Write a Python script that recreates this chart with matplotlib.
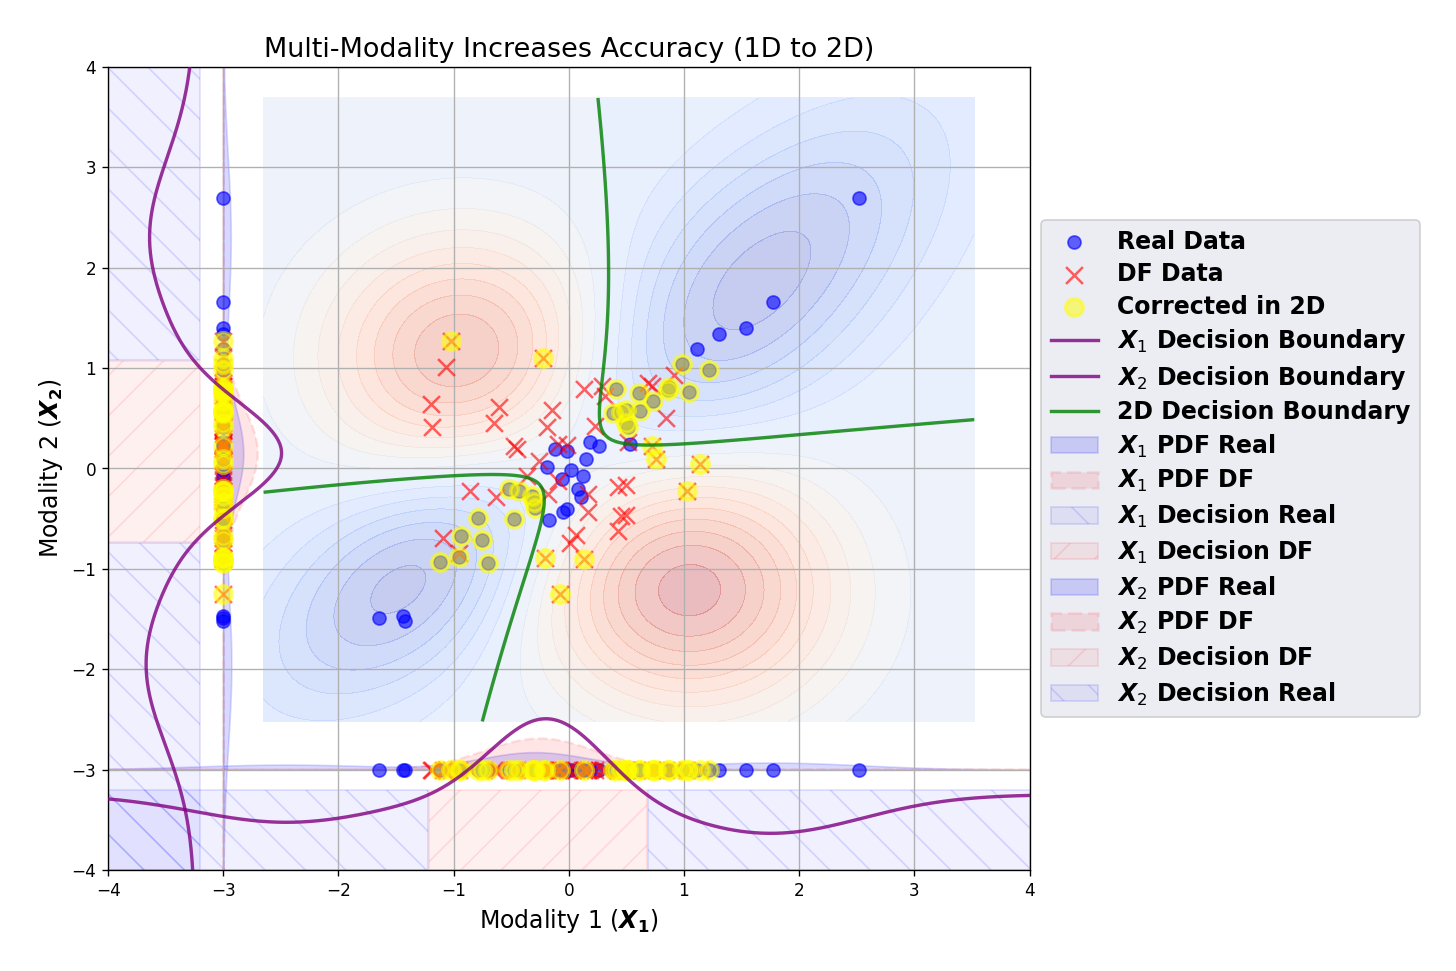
import numpy as np
import matplotlib
matplotlib.use("Agg")
import matplotlib.pyplot as plt
from matplotlib.lines import Line2D

# real samples (modality 1, modality 2)
real_x1 = [2.52, 1.77, 1.54, 1.30, 1.11,
           0.18, 0.26, 0.53, -0.12, -0.02, 0.15, -0.19, 0.02, 0.12, -0.06, 0.08, 0.11, -0.02, -0.05, -0.17,
           -1.65, -1.44, -1.42,
           0.98, 1.22, 1.04, 0.86, 0.87, 0.73,
           -1.12, -0.95, -0.70,
           0.41, 0.61, 0.62, 0.38, 0.45, 0.50, 0.50, 0.51,
           -0.52, -0.43, -0.32, -0.29, -0.30, -0.79, -0.48, -0.94, -0.75]
real_x2 = [2.69, 1.66, 1.40, 1.34, 1.19,
           0.26, 0.22, 0.24, 0.19, 0.17, 0.09, 0.01, -0.02, -0.08, -0.11, -0.21, -0.28, -0.40, -0.43, -0.51,
           -1.49, -1.47, -1.52,
           1.04, 0.98, 0.76, 0.78, 0.81, 0.67,
           -0.93, -0.88, -0.94,
           0.79, 0.75, 0.57, 0.55, 0.56, 0.58, 0.45, 0.41,
           -0.21, -0.23, -0.27, -0.39, -0.33, -0.49, -0.50, -0.67, -0.71]

# deepfake samples
df_x1 = [-1.02, -0.22, -1.07, -1.20, -1.19, -0.61, -0.65, -0.15, -0.19,
         0.13, 0.29, 0.31, 0.23, 0.69, 0.72, 0.91, 0.84, 0.51,
         -0.48, -0.45, -0.09, -0.02, -0.26, -0.36, -0.09,
         -0.86, -0.63, -0.18, 0.17, 0.17, 0.43, 0.50, 0.45, 0.50, 0.43, 0.06, 0.01,
         -1.09, -0.95,
         0.72, 0.76, 1.14, 1.03, -0.21, 0.13, -0.08]
df_x2 = [1.27, 1.10, 1.01, 0.64, 0.41, 0.61, 0.45, 0.58, 0.41,
         0.79, 0.82, 0.72, 0.42, 0.85, 0.82, 0.93, 0.50, 0.26,
         0.22, 0.19, 0.24, 0.23, 0.07, -0.08, -0.13,
         -0.23, -0.28, -0.25, -0.25, -0.43, -0.19, -0.17, -0.47, -0.46, -0.62, -0.66, -0.74,
         -0.69, -0.84,
         0.22, 0.09, 0.04, -0.23, -0.89, -0.90, -1.25]

# points wrong in 1D but right in 2D (indices into the lists above)
real_fix = list(range(23, 49))
df_fix = [0, 1, 39, 40, 41, 42, 43, 44, 45]

# 2D score surface: lobes (amp, centre, spreads, angle)
lobe_amp = [-1.0, -1.0, 1.4, 1.6]
lobe_cx = [1.6, -1.35, -0.9, 1.02]
lobe_cy = [1.8, -1.08, 1.1, -1.18]
lobe_sa = [1.5, 1.15, 0.85, 0.85]
lobe_sb = [0.7, 0.62, 0.85, 0.9]
lobe_ang = [50, 45, 90, 75]

# 1D density profiles (height, mean, sd) per component
x1_real_h, x1_real_m, x1_real_s = [0.17, 0.05, 0.07], [-0.3, -2.45, 1.75], [0.47, 0.8, 0.8]
x1_df_h, x1_df_m, x1_df_s = [0.31], [-0.25], [0.48]
x2_real_h, x2_real_m, x2_real_s = [0.17, 0.07, 0.065], [0.15, -1.95, 2.3], [0.45, 0.8, 0.8]
x2_df_h, x2_df_m, x2_df_s = [0.30], [0.15], [0.46]
gain_x1, gain_x2 = 5.5, 6.0
base = -3.25

real_x1, real_x2 = np.array(real_x1), np.array(real_x2)
df_x1, df_x2 = np.array(df_x1), np.array(df_x2)


def profile(v, hs, ms, ss):
    out = np.zeros_like(v)
    for h, m, s in zip(hs, ms, ss):
        out += h * np.exp(-0.5 * ((v - m) / s) ** 2)
    return out


def surface(px, py):
    out = np.zeros_like(px)
    for a, cx, cy, sa, sb, ang in zip(lobe_amp, lobe_cx, lobe_cy, lobe_sa, lobe_sb, lobe_ang):
        t = np.deg2rad(ang)
        dx, dy = px - cx, py - cy
        u = np.cos(t) * dx + np.sin(t) * dy
        w = -np.sin(t) * dx + np.cos(t) * dy
        out += a * np.exp(-0.5 * ((u / sa) ** 2 + (w / sb) ** 2))
    return out


allx = np.concatenate([real_x1, df_x1])
ally = np.concatenate([real_x2, df_x2])
gx, gy = np.meshgrid(np.linspace(allx.min() - 1, allx.max() + 1, 300),
                     np.linspace(ally.min() - 1, ally.max() + 1, 300))
field = surface(gx, gy)

xs = np.linspace(-4, 4, 800)
p1r = profile(xs, x1_real_h, x1_real_m, x1_real_s)
p1d = profile(xs, x1_df_h, x1_df_m, x1_df_s)
p2r = profile(xs, x2_real_h, x2_real_m, x2_real_s)
p2d = profile(xs, x2_df_h, x2_df_m, x2_df_s)

cx = np.concatenate([real_x1[real_fix], df_x1[df_fix]])
cy = np.concatenate([real_x2[real_fix], df_x2[df_fix]])

fig = plt.figure(figsize=(12, 8), dpi=121.4)
ax = fig.add_axes([0.0742, 0.104, 0.6325, 0.827])

ax.contourf(gx, gy, field, levels=20, cmap="coolwarm", alpha=0.3, zorder=0)
ax.contour(gx, gy, field, levels=[0], colors="green", linewidths=2, alpha=0.8, zorder=3)

m1 = p1d > p1r
m2 = p2d > p2r
s1r = ax.fill_between(xs, -4, -3.2, where=~m1, facecolor=(0, 0, 1, 0.06), edgecolor=(0, 0, 1, 0.12),
                      hatch="\\", linewidth=1, label=r"$\mathbfit{X}_1$ Decision Real")
s1d = ax.fill_between(xs, -4, -3.2, where=m1, facecolor=(1, 0, 0, 0.06), edgecolor=(1, 0, 0, 0.1),
                      hatch="/", linewidth=1, label=r"$\mathbfit{X}_1$ Decision DF")
s2d = ax.fill_betweenx(xs, -4, -3.2, where=m2, facecolor=(1, 0, 0, 0.06), edgecolor=(1, 0, 0, 0.1),
                       hatch="/", linewidth=1, label=r"$\mathbfit{X}_2$ Decision DF")
s2r = ax.fill_betweenx(xs, -4, -3.2, where=~m2, facecolor=(0, 0, 1, 0.06), edgecolor=(0, 0, 1, 0.12),
                       hatch="\\", linewidth=1, label=r"$\mathbfit{X}_2$ Decision Real")

f1r = ax.fill_between(xs, -3, -3 + p1r, color="blue", alpha=0.15, label=r"$\mathbfit{X}_1$ PDF Real")
f1d = ax.fill_between(xs, -3, -3 + p1d, color="red", alpha=0.1, linestyle="--", linewidth=1.5,
                      label=r"$\mathbfit{X}_1$ PDF DF")
f2r = ax.fill_betweenx(xs, -3, -3 + p2r, color="blue", alpha=0.15, label=r"$\mathbfit{X}_2$ PDF Real")
f2d = ax.fill_betweenx(xs, -3, -3 + p2d, color="red", alpha=0.1, linestyle="--", linewidth=1.5,
                       label=r"$\mathbfit{X}_2$ PDF DF")

real_kw = dict(c="blue", s=60, alpha=0.6, edgecolors="blue", linewidths=1)
df_kw = dict(c="red", marker="x", s=100, alpha=0.6, linewidths=1.5)
cor_kw = dict(facecolors="yellow", edgecolors="yellow", s=110, alpha=0.5, linewidths=2)

hr = ax.scatter(real_x1, real_x2, label="Real Data", zorder=2, **real_kw)
hd = ax.scatter(df_x1, df_x2, label="DF Data", zorder=2, **df_kw)
hc = ax.scatter(cx, cy, label="Corrected in 2D", zorder=2, **cor_kw)
# projections onto each axis
ax.scatter(real_x1, np.full(len(real_x1), -3.0), zorder=2, **real_kw)
ax.scatter(df_x1, np.full(len(df_x1), -3.0), zorder=2, **df_kw)
ax.scatter(cx, np.full(len(cx), -3.0), zorder=2, **cor_kw)
ax.scatter(np.full(len(real_x2), -3.0), real_x2, zorder=2, **real_kw)
ax.scatter(np.full(len(df_x2), -3.0), df_x2, zorder=2, **df_kw)
ax.scatter(np.full(len(cy), -3.0), cy, zorder=2, **cor_kw)

l1, = ax.plot(xs, base + gain_x1 * (p1d - p1r), color="purple", lw=2, alpha=0.8, zorder=3,
              label=r"$\mathbfit{X}_1$ Decision Boundary")
l2, = ax.plot(base + gain_x2 * (p2d - p2r), xs, color="purple", lw=2, alpha=0.8, zorder=3,
              label=r"$\mathbfit{X}_2$ Decision Boundary")
g = Line2D([], [], color="green", lw=2, alpha=0.8, label="2D Decision Boundary")

ax.set_xlim(-4, 4)
ax.set_ylim(-4, 4)
ax.grid(True)
ax.set_title("Multi-Modality Increases Accuracy (1D to 2D)", fontsize=16)
ax.set_xlabel(r"Modality 1 ($\mathbfit{X}_\mathbf{1}$)", fontsize=14)
ax.set_ylabel(r"Modality 2 ($\mathbfit{X}_\mathbf{2}$)", fontsize=14)

handles = [hr, hd, hc, l1, l2, g, f1r, f1d, s1r, s1d, f2r, f2d, s2d, s2r]
ax.legend(handles=handles, loc="center left", bbox_to_anchor=(1, 0.5), labelspacing=0.36,
          prop={"size": 14, "weight": "bold"}, facecolor="#EAEAF2", framealpha=0.9)

fig.savefig("out.png", dpi=121.4)
